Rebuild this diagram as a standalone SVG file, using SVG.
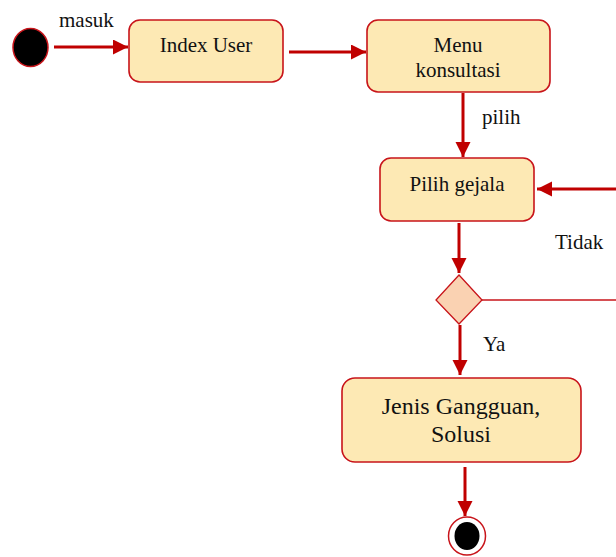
<svg xmlns="http://www.w3.org/2000/svg" width="616" height="557" viewBox="0 0 616 557">
  <style>
    .box { fill: #fde9b4; stroke: #c8141a; stroke-width: 1.6; }
    .dec { fill: #fad2b2; stroke: #c8141a; stroke-width: 1.3; }
    .lbl { font-family: "Liberation Serif", "Times New Roman", serif; font-size: 21px; fill: #111; }
    .big { font-size: 24px; }
    .flow { stroke: #c00000; stroke-width: 3; fill: none; }
    .thin { stroke: #c8141a; stroke-width: 1.3; fill: none; }
  </style>
  <defs>
    <marker id="arrow" markerUnits="userSpaceOnUse" markerWidth="16" markerHeight="16" refX="15" refY="7.5" orient="auto">
      <path d="M0,0 L15,7.5 L0,15 Z" fill="#c00000"/>
    </marker>
  </defs>

  <!-- connectors -->
  <g id="connectors">
    <line class="flow" x1="54" y1="47" x2="128" y2="47" marker-end="url(#arrow)"/>
    <line class="flow" x1="289" y1="52" x2="366" y2="52" marker-end="url(#arrow)"/>
    <line class="flow" x1="463" y1="93" x2="463" y2="157" marker-end="url(#arrow)"/>
    <line class="flow" x1="459" y1="223" x2="459" y2="273" marker-end="url(#arrow)"/>
    <line class="thin" x1="482" y1="300" x2="616" y2="300"/>
    <line class="flow" x1="616" y1="189" x2="537" y2="189" marker-end="url(#arrow)"/>
    <line class="flow" x1="460" y1="325" x2="460" y2="375" marker-end="url(#arrow)"/>
    <line class="flow" x1="465" y1="467" x2="465" y2="516" marker-end="url(#arrow)"/>
    <text class="lbl" x="59" y="27">masuk</text>
    <text class="lbl" x="482" y="124">pilih</text>
    <text class="lbl" x="555" y="249">Tidak</text>
    <text class="lbl" x="483" y="351">Ya</text>
  </g>

  <g id="start">
    <ellipse cx="30.5" cy="47.5" rx="17.5" ry="19" fill="#000" stroke="#c8141a" stroke-width="1.5"/>
  </g>

  <g id="index-user">
    <rect class="box" x="129" y="20" width="154" height="62" rx="11"/>
    <text class="lbl" x="206" y="52" text-anchor="middle">Index User</text>
  </g>

  <g id="menu-konsultasi">
    <rect class="box" x="367" y="20" width="183" height="72" rx="11"/>
    <text class="lbl" x="458" y="52" text-anchor="middle">Menu</text>
    <text class="lbl" x="458" y="77" text-anchor="middle">konsultasi</text>
  </g>

  <g id="pilih-gejala">
    <rect class="box" x="380" y="158" width="154" height="63" rx="11"/>
    <text class="lbl" x="457" y="191" text-anchor="middle">Pilih gejala</text>
  </g>

  <g id="decision">
    <polygon class="dec" points="459,275 482,300 459,324 436,300"/>
  </g>

  <g id="jenis-gangguan">
    <rect class="box" x="342" y="378" width="239" height="84" rx="13"/>
    <text class="lbl big" x="461" y="414" text-anchor="middle">Jenis Gangguan,</text>
    <text class="lbl big" x="461" y="442" text-anchor="middle">Solusi</text>
  </g>

  <g id="end">
    <ellipse cx="467" cy="536" rx="18.5" ry="19" fill="#fff" stroke="#c8141a" stroke-width="1.5"/>
    <ellipse cx="467" cy="536" rx="12.5" ry="14" fill="#000"/>
  </g>
</svg>
